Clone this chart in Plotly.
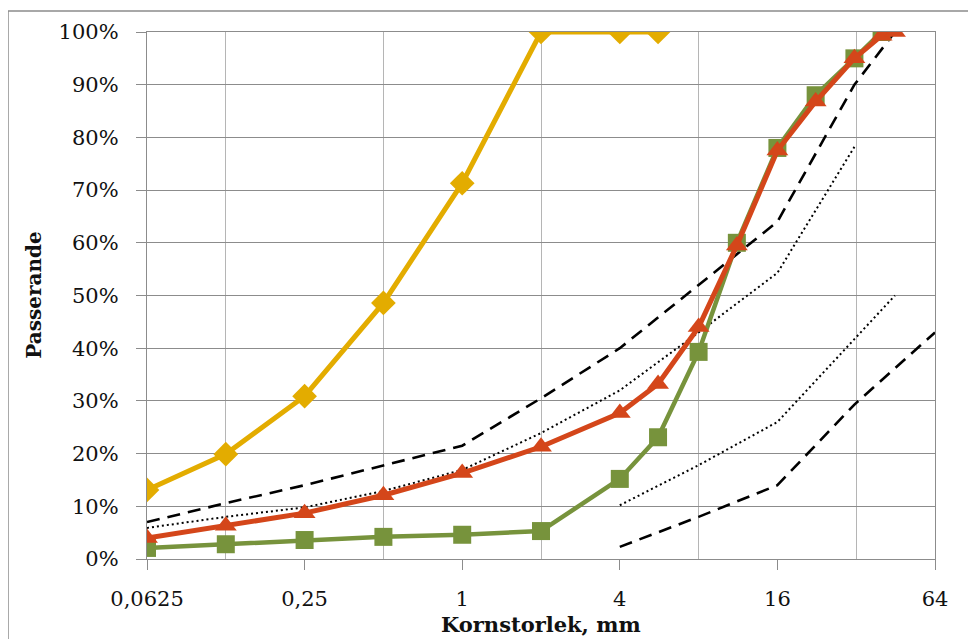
import math
import plotly.graph_objects as go

# ---- data (sieve sizes in mm, passing in %) ----
sizes_yellow = [0.0625, 0.125, 0.25, 0.5, 1, 2, 4, 5.6]
pass_yellow = [13.1, 19.9, 30.9, 48.6, 71.3, 100, 100, 100]

sizes_green = [0.0625, 0.125, 0.25, 0.5, 1, 2, 4, 5.6, 8, 11.2, 16, 22.4, 31.5, 40]
pass_green = [2.1, 2.8, 3.6, 4.2, 4.6, 5.3, 15.2, 23.1, 39.3, 60, 78, 88, 95, 100]

sizes_red = [0.0625, 0.125, 0.25, 0.5, 1, 2, 4, 5.6, 8, 11.2, 16, 22.4, 31.5, 40, 45]
pass_red = [4.0, 6.3, 8.7, 12.1, 16.3, 21.3, 27.7, 33.2, 44, 59.5, 77.5, 86.8, 95, 99.3, 100]

upper_dash_x = [0.0625, 0.125, 0.25, 0.5, 1, 2, 4, 8, 16, 31.5, 45]
upper_dash_y = [7.0, 10.6, 14.0, 17.8, 21.5, 30.5, 40, 52, 64, 90, 100]

upper_dot_x = [0.0625, 0.125, 0.25, 0.5, 1, 2, 4, 8, 16, 31.5]
upper_dot_y = [5.9, 8.0, 9.8, 12.9, 16.9, 23.9, 32, 43, 54.3, 78.2]

lower_dot_x = [4, 8, 16, 45]
lower_dot_y = [10.2, 17.8, 26, 50]

lower_dash_x = [4, 8, 16, 31.5, 64]
lower_dash_y = [2.3, 8, 14, 29.3, 43]

x_tick_vals = [0.0625, 0.25, 1, 4, 16, 64]
x_tick_text = ["0,0625", "0,25", "1", "4", "16", "64"]
x_grid_vals = [0.125, 0.5, 2, 8, 32]
y_tick_vals = [0, 10, 20, 30, 40, 50, 60, 70, 80, 90, 100]
y_tick_text = [f"{v}%" for v in y_tick_vals]

YELLOW = "#E3AC00"
GREEN = "#77933C"
RED = "#D4461A"
FONT = "DejaVu Serif"

fig = go.Figure()

fig.add_trace(go.Scatter(x=upper_dash_x, y=upper_dash_y, mode="lines",
                         line=dict(color="black", width=2.6, dash="13px,8px")))
fig.add_trace(go.Scatter(x=lower_dash_x, y=lower_dash_y, mode="lines",
                         line=dict(color="black", width=2.6, dash="13px,8px")))
fig.add_trace(go.Scatter(x=upper_dot_x, y=upper_dot_y, mode="lines",
                         line=dict(color="black", width=2, dash="2px,3px")))
fig.add_trace(go.Scatter(x=lower_dot_x, y=lower_dot_y, mode="lines",
                         line=dict(color="black", width=2, dash="2px,3px")))

fig.add_trace(go.Scatter(x=sizes_green, y=pass_green, mode="lines+markers",
                         line=dict(color=GREEN, width=4.5),
                         marker=dict(symbol="square", size=18, color=GREEN)))
fig.add_trace(go.Scatter(x=sizes_red, y=pass_red, mode="lines+markers",
                         line=dict(color=RED, width=5),
                         marker=dict(symbol="triangle-up", size=19, color=RED)))
fig.add_trace(go.Scatter(x=sizes_yellow, y=pass_yellow, mode="lines+markers",
                         line=dict(color=YELLOW, width=5),
                         marker=dict(symbol="diamond", size=19, color=YELLOW)))

# page body adds an 8px offset; margins compensate so the plot area
# sits at x 147..935, y 32..559 of the window
fig.update_layout(
    width=976, height=639,
    margin=dict(l=139, r=49, t=24, b=88),
    paper_bgcolor="white", plot_bgcolor="white",
    showlegend=False,
    font=dict(family=FONT, size=21, color="#111111"),
)

fig.update_xaxes(
    type="log",
    range=[math.log10(0.0625), math.log10(64)],
    tickmode="array", tickvals=x_tick_vals, ticktext=x_tick_text,
    ticks="outside", ticklen=10, tickwidth=1.3, tickcolor="#8C8C8C",
    ticklabelstandoff=11,
    showgrid=False, zeroline=False,
    showline=True, linecolor="#8C8C8C", linewidth=1.3, mirror=True,
    minor=dict(tickmode="array", tickvals=x_grid_vals, showgrid=True,
               gridcolor="#B5B5B5", gridwidth=1.3, ticks=""),
)
fig.update_yaxes(
    range=[0, 100],
    tickmode="array", tickvals=y_tick_vals, ticktext=y_tick_text,
    ticks="outside", ticklen=10, tickwidth=1.3, tickcolor="#8C8C8C",
    ticklabelstandoff=13,
    showgrid=True, gridcolor="#8C8C8C", gridwidth=1.3, zeroline=False,
    showline=True, linecolor="#8C8C8C", linewidth=1.3, mirror=True,
)

# chart-area border
fig.add_shape(type="rect", xref="paper", yref="paper",
              x0=-0.1764, x1=1.2, y0=-0.3, y1=1.0398,
              line=dict(color="#8C8C8C", width=1.5), layer="below")

fig.add_annotation(text="<b>Kornstorlek, mm</b>", xref="paper", yref="paper",
                   x=0.5, y=-0.124, yanchor="middle", showarrow=False,
                   font=dict(family=FONT, size=21, color="#111111"))
fig.add_annotation(text="<b>Passerande</b>", xref="paper", yref="paper",
                   x=-0.1445, y=0.5, xanchor="center", yanchor="middle",
                   textangle=-90, showarrow=False,
                   font=dict(family=FONT, size=20, color="#111111"))

fig.write_html("out.html")
